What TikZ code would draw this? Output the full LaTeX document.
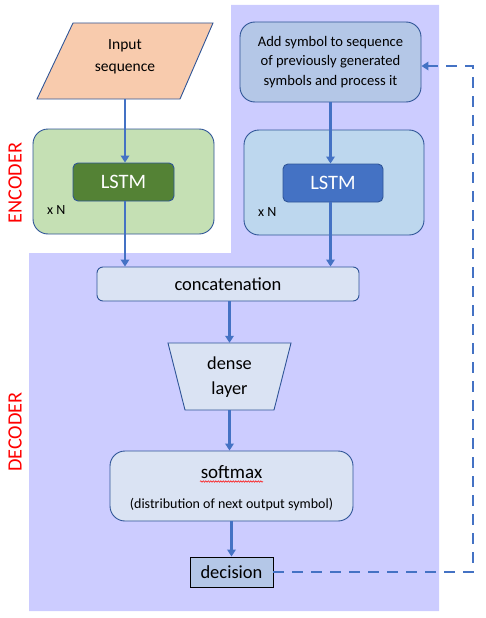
\documentclass[tikz,border=0pt]{standalone}
\usepackage{fontspec}
\setmainfont{Carlito}
\usetikzlibrary{arrows.meta,decorations.pathmorphing}
\definecolor{bgpurple}{HTML}{CCCCFF}
\definecolor{cpeach}{HTML}{F8CBAD}
\definecolor{cgreenbg}{HTML}{C5E0B4}
\definecolor{cgreen}{HTML}{548235}
\definecolor{cbluebg}{HTML}{BDD7EE}
\definecolor{cblue}{HTML}{4472C4}
\definecolor{cadd}{HTML}{B4C7E7}
\definecolor{clight}{HTML}{DAE3F3}
\definecolor{cborder}{HTML}{2F5597}
\tikzset{
  box/.style={draw=cborder, line width=0.9pt, inner sep=0pt},
  cont/.style={box, rounded corners=15pt},
  lstm/.style={box, rounded corners=5pt, text=white, font=\fontsize{20.5}{24}\selectfont},
  txt/.style={inner sep=0pt, align=center},
  arr/.style={draw=cblue, line width=2.4pt, -{Triangle[length=7pt,width=8.5pt]}},
  fb/.style={draw=cblue, line width=2.7pt, dash pattern=on 11pt off 8pt, -{Triangle[length=7pt,width=8.5pt]}},
  lbl/.style={text=red, font=\fontsize{20.3}{24}\selectfont, rotate=90, inner sep=0pt}
}
\begin{document}
\begin{tikzpicture}[x=1pt,y=-1pt]
\useasboundingbox (0,0) rectangle (485,618);
% background
\fill[bgpurple] (29,253) -- (231,253) -- (231,5) -- (439,5) -- (439,611) -- (29,611) -- cycle;
% labels
\node[lbl] (enc) at (15,183) {ENCODER};
\node[lbl] (decl) at (15,432) {DECODER};
% input parallelogram
\node[txt, minimum width=140pt, minimum height=76pt] (inp) at (125,61) {};
\draw[box, fill=cpeach] (73,23) -- (213,23) -- (180,99) -- (37,99) -- cycle;
\node[txt, font=\fontsize{15.5}{22}\selectfont] (inptxt) at (125,57) {Input\\sequence};
% add symbol box
\node[cont, fill=cadd, minimum width=181pt, minimum height=80pt, font=\fontsize{14.6}{19.7}\selectfont, align=center] (add) at (330.5,62) {Add symbol to sequence\\of previously generated\\symbols and process it};
% encoder container
\node[cont, fill=cgreenbg, minimum width=181pt, minimum height=105pt] (encbox) at (123.5,181.5) {};
\node[lstm, fill=cgreen, minimum width=101pt, minimum height=38pt] (lstm1) at (123.5,182) {LSTM};
\node[anchor=west, inner sep=0pt, font=\fontsize{14}{16}\selectfont] (xn1) at (47,210) {x N};
% decoder container
\node[cont, fill=cbluebg, minimum width=180pt, minimum height=105pt] (decbox) at (334,182.5) {};
\node[lstm, fill=cblue, minimum width=100pt, minimum height=38pt] (lstm2) at (333,183) {LSTM};
\node[anchor=west, inner sep=0pt, font=\fontsize{14}{16}\selectfont] (xn2) at (258,212) {x N};
% concatenation
\node[box, rounded corners=6pt, fill=clight, minimum width=262pt, minimum height=34pt, font=\fontsize{18.5}{22}\selectfont] (concat) at (228,284) {concatenation};
% dense layer trapezium
\node[txt, minimum width=123pt, minimum height=67pt] (dense) at (229.5,376.5) {};
\draw[box, fill=clight] (168,343) -- (291,343) -- (274,410) -- (185,410) -- cycle;
\node[txt, font=\fontsize{18.3}{25}\selectfont] (densetxt) at (229.5,377) {dense\\layer};
% softmax
\node[cont, fill=clight, minimum width=243pt, minimum height=70pt] (soft) at (231.5,486) {};
\node[inner sep=0pt, font=\fontsize{19}{22}\selectfont] (softtxt) at (231.5,472) {softmax};
\node[inner sep=0pt, font=\fontsize{14}{16}\selectfont] (disttxt) at (231.5,505) {(distribution of next output symbol)};
\coordinate (sq1) at (200,481.5);
\coordinate (sq2) at (263,481.5);
\draw[red, line width=0.5pt, decorate, decoration={snake, segment length=2.5pt, amplitude=0.7pt}] (sq1) -- (sq2);
% decision
\node[draw=black, line width=0.9pt, fill=cadd, minimum width=83pt, minimum height=30pt, inner sep=0pt, font=\fontsize{18.5}{22}\selectfont] (dec) at (231.5,572) {decision};
% arrows
\draw[arr] (inp.south) -- (inp.south |- lstm1.north);
\draw[arr] (add.south) -- (add.south |- lstm2.north);
\draw[arr] (inp.south |- lstm1.south) -- (inp.south |- concat.north);
\draw[arr] (add.south |- lstm2.south) -- (add.south |- concat.north);
\draw[arr] (dense.north |- concat.south) -- (dense.north);
\draw[arr] (dense.south) -- (dense.south |- soft.north);
\draw[arr] (soft.south) -- (dec.north);
% feedback
\coordinate (fbr) at (473,571);
\coordinate (fbt) at (473,66);
\draw[fb] (dec.east) -- (dec.east -| fbr) -- (fbt) -- (add.east |- fbt);
\end{tikzpicture}
\end{document}
